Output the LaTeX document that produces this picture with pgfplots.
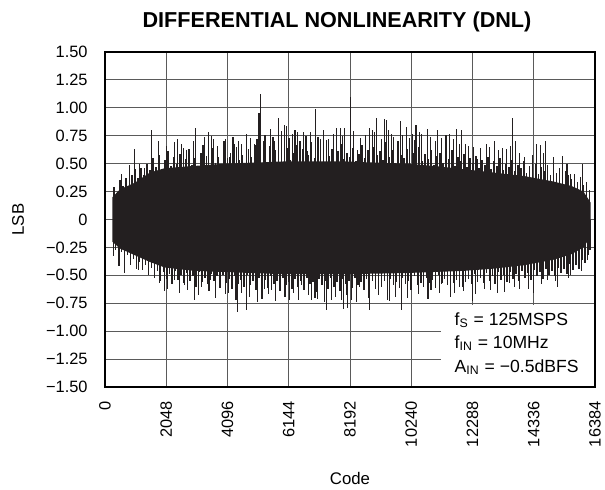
\documentclass[border=0pt]{standalone}
\usepackage{fontspec}
\setmainfont{Liberation Sans}
\usepackage{pgfplots}
\pgfplotsset{compat=1.18}
\definecolor{ink}{HTML}{231F20}
\definecolor{gridc}{HTML}{5A5A5A}
\begin{document}
\begin{tikzpicture}
\begin{axis}[
  scale only axis, width=245pt, height=167.5pt,
  xmin=0, xmax=16384, ymin=-1.5, ymax=1.5,
  scaled x ticks=false, scaled y ticks=false,
  xtick={0,2048,4096,6144,8192,10240,12288,14336,16384},
  xticklabels={0,2048,4096,6144,8192,10240,12288,14336,16384},
  ytick={-1.5,-1.25,-1,-0.75,-0.5,-0.25,0,0.25,0.5,0.75,1,1.25,1.5},
  yticklabels={−1.50,−1.25,−1.00,−0.75,−0.50,−0.25,0,0.25,0.50,0.75,1.00,1.25,1.50},
  x tick label style={rotate=90, anchor=east, inner sep=0pt, font=\fontsize{8.2}{10}\selectfont},
  y tick label style={anchor=east, inner sep=0pt, font=\fontsize{8.2}{10}\selectfont},
  xticklabel shift=7pt, yticklabel shift=8.5pt,
  grid=major, major grid style={gridc, line width=0.5pt},
  axis line style={line width=1pt, black},
  tick style={gridc, line width=0.5pt},
  major tick length=3pt,
  xlabel={Code}, ylabel={LSB},
  xlabel style={at={(axis description cs:0.5,-0.2716)}, anchor=center, font=\fontsize{8.4}{10}\selectfont},
  ylabel style={at={(axis description cs:-0.1776,0.5)}, anchor=center, font=\fontsize{8.4}{10}\selectfont},
]
% dense core (upper envelope left to right, lower envelope right to left)
\addplot[draw=none, fill=ink] coordinates {
(250,0.20) (500,0.27) (1000,0.33) (1500,0.42) (2000,0.46) (3000,0.48) (4000,0.50) (6000,0.52) (8000,0.52) (10000,0.50)
(11000,0.48) (12000,0.45) (13000,0.42) (14000,0.39) (15000,0.34) (15600,0.30) (16000,0.25) (16240,0.15)
(16240,-0.15) (16000,-0.25) (15600,-0.31) (15000,-0.36) (14000,-0.41) (13000,-0.44) (12000,-0.46) (11000,-0.47) (10000,-0.48)
(8000,-0.49) (6000,-0.49) (4000,-0.47) (3000,-0.46) (2000,-0.43) (1500,-0.38) (1000,-0.32) (500,-0.26) (250,-0.20)
} -- cycle;
% dense fringe, upper
\addplot[ycomb, draw=ink, line width=0.8pt, mark=none] coordinates {
(300,0.29) (400,0.24) (500,0.35) (600,0.30) (700,0.37) (800,0.29) (900,0.40) (1000,0.45) (1100,0.37) (1200,0.46)
(1300,0.40) (1400,0.50) (1500,0.44) (1600,0.55) (1700,0.47) (1800,0.58) (1900,0.45) (2000,0.53) (2100,0.61) (2200,0.48)
(2300,0.56) (2400,0.50) (2500,0.59) (2600,0.46) (2700,0.54) (2800,0.63) (2900,0.49) (3000,0.55) (3100,0.47) (3200,0.60)
(3300,0.52) (3400,0.57) (3500,0.48) (3600,0.64) (3700,0.51) (3800,0.56) (3900,0.47) (4000,0.62) (4100,0.55) (4200,0.60)
(4300,0.50) (4400,0.65) (4500,0.53) (4600,0.58) (4700,0.49) (4800,0.63) (4900,0.56) (5000,0.68) (5100,0.52) (5200,0.59)
(5300,0.61) (5400,0.50) (5500,0.66) (5600,0.55) (5700,0.62) (5800,0.52) (5900,0.70) (6000,0.57) (6100,0.64) (6200,0.53)
(6300,0.60) (6400,0.67) (6500,0.54) (6600,0.63) (6700,0.51) (6800,0.58) (6900,0.69) (7000,0.55) (7100,0.62) (7200,0.59)
(7300,0.52) (7400,0.66) (7500,0.57) (7600,0.63) (7700,0.50) (7800,0.61) (7900,0.68) (8000,0.54) (8100,0.60) (8200,0.56)
(8300,0.64) (8400,0.52) (8500,0.59) (8600,0.67) (8700,0.55) (8800,0.62) (8900,0.50) (9000,0.65) (9100,0.58) (9200,0.61)
(9300,0.53) (9400,0.69) (9500,0.56) (9600,0.62) (9700,0.51) (9800,0.64) (9900,0.58) (10000,0.55) (10100,0.63) (10200,0.50)
(10300,0.60) (10400,0.56) (10500,0.65) (10600,0.52) (10700,0.59) (10800,0.54) (10900,0.62) (11000,0.49) (11100,0.57) (11200,0.60)
(11300,0.51) (11400,0.58) (11500,0.54) (11600,0.62) (11700,0.48) (11800,0.56) (11900,0.52) (12000,0.59) (12100,0.47) (12200,0.55)
(12300,0.51) (12400,0.57) (12500,0.46) (12600,0.53) (12700,0.49) (12800,0.56) (12900,0.45) (13000,0.52) (13100,0.48) (13200,0.55)
(13300,0.44) (13400,0.50) (13500,0.47) (13600,0.53) (13700,0.43) (13800,0.49) (13900,0.46) (14000,0.52) (14100,0.42) (14200,0.48)
(14300,0.45) (14400,0.50) (14500,0.41) (14600,0.47) (14700,0.43) (14800,0.49) (14900,0.40) (15000,0.45) (15100,0.42) (15200,0.46)
(15300,0.38) (15400,0.43) (15500,0.40) (15600,0.36) (15700,0.41) (15800,0.34) (15900,0.38) (16000,0.31) (16100,0.34) (16200,0.26)
};
% dense fringe, lower
\addplot[ycomb, draw=ink, line width=0.8pt, mark=none] coordinates {
(350,-0.27) (450,-0.33) (550,-0.29) (650,-0.38) (750,-0.32) (850,-0.41) (950,-0.35) (1050,-0.44) (1150,-0.38) (1250,-0.45)
(1350,-0.41) (1450,-0.49) (1550,-0.43) (1650,-0.52) (1750,-0.46) (1850,-0.55) (1950,-0.47) (2050,-0.53) (2150,-0.49) (2250,-0.58)
(2350,-0.46) (2450,-0.54) (2550,-0.50) (2650,-0.57) (2750,-0.48) (2850,-0.55) (2950,-0.51) (3050,-0.60) (3150,-0.47) (3250,-0.56)
(3350,-0.52) (3450,-0.58) (3550,-0.49) (3650,-0.55) (3750,-0.51) (3850,-0.61) (3950,-0.50) (4050,-0.57) (4150,-0.53) (4250,-0.62)
(4350,-0.51) (4450,-0.58) (4550,-0.54) (4650,-0.60) (4750,-0.50) (4850,-0.59) (4950,-0.55) (5050,-0.63) (5150,-0.52) (5250,-0.57)
(5350,-0.54) (5450,-0.61) (5550,-0.51) (5650,-0.58) (5750,-0.55) (5850,-0.64) (5950,-0.52) (6050,-0.59) (6150,-0.56) (6250,-0.62)
(6350,-0.53) (6450,-0.60) (6550,-0.55) (6650,-0.63) (6750,-0.52) (6850,-0.58) (6950,-0.56) (7050,-0.65) (7150,-0.53) (7250,-0.59)
(7350,-0.55) (7450,-0.62) (7550,-0.52) (7650,-0.60) (7750,-0.56) (7850,-0.64) (7950,-0.53) (8050,-0.58) (8150,-0.55) (8250,-0.61)
(8350,-0.52) (8450,-0.59) (8550,-0.56) (8650,-0.63) (8750,-0.53) (8850,-0.60) (8950,-0.55) (9050,-0.62) (9150,-0.52) (9250,-0.58)
(9350,-0.55) (9450,-0.64) (9550,-0.53) (9650,-0.59) (9750,-0.56) (9850,-0.61) (9950,-0.52) (10050,-0.58) (10150,-0.55) (10250,-0.62)
(10350,-0.51) (10450,-0.59) (10550,-0.54) (10650,-0.60) (10750,-0.52) (10850,-0.57) (10950,-0.54) (11050,-0.61) (11150,-0.50) (11250,-0.58)
(11350,-0.53) (11450,-0.59) (11550,-0.51) (11650,-0.57) (11750,-0.54) (11850,-0.60) (11950,-0.50) (12050,-0.56) (12150,-0.53) (12250,-0.58)
(12350,-0.49) (12450,-0.56) (12550,-0.52) (12650,-0.57) (12750,-0.48) (12850,-0.55) (12950,-0.51) (13050,-0.58) (13150,-0.47) (13250,-0.54)
(13350,-0.50) (13450,-0.56) (13550,-0.47) (13650,-0.53) (13750,-0.49) (13850,-0.55) (13950,-0.46) (14050,-0.52) (14150,-0.48) (14250,-0.54)
(14350,-0.45) (14450,-0.51) (14550,-0.47) (14650,-0.53) (14750,-0.44) (14850,-0.50) (14950,-0.46) (15050,-0.51) (15150,-0.43) (15250,-0.48)
(15350,-0.44) (15450,-0.49) (15550,-0.40) (15650,-0.45) (15750,-0.41) (15850,-0.44) (15950,-0.36) (16050,-0.39) (16150,-0.32) (16220,-0.27)
};
% taller fringe spikes
\addplot[ycomb, draw=ink, line width=0.6pt, mark=none] coordinates {
(2050,0.66) (2420,0.72) (2630,0.64) (2960,0.70) (3280,0.67) (3560,0.75) (3760,0.66) (3980,0.70) (4280,0.74) (4560,0.68)
(4720,0.77) (5080,0.72) (5350,0.76) (5620,0.74) (5900,0.79) (6150,0.73) (6350,0.80) (6520,0.70) (6720,0.75) (6880,0.78)
(7120,0.74) (7300,0.80) (7480,0.72) (7650,0.77) (7950,0.75) (8320,0.79) (8530,0.73) (8720,0.76) (9020,0.78) (9250,0.72)
(9480,0.80) (9650,0.74) (9800,0.70) (9960,0.76) (10180,0.73) (10350,0.71) (10520,0.78) (10880,0.74) (11050,0.70) (11250,0.73)
(11650,0.72) (11850,0.68) (12150,0.66) (12550,0.64) (12750,0.68) (13150,0.62) (13550,0.66) (13850,0.60) (14300,0.58) (14650,0.60)
(15000,0.52) (15450,0.50)
(2100,-0.62) (2480,-0.66) (2760,-0.63) (3120,-0.68) (3480,-0.64) (3700,-0.70) (4020,-0.67) (4380,-0.72) (4820,-0.69) (5250,-0.71)
(5480,-0.67) (5700,-0.73) (6020,-0.69) (6300,-0.66) (6480,-0.72) (6800,-0.68) (7020,-0.70) (7350,-0.74) (7700,-0.69) (7900,-0.72)
(8080,-0.68) (8400,-0.74) (8800,-0.70) (9150,-0.68) (9520,-0.73) (9720,-0.69) (10120,-0.70) (10480,-0.67) (10800,-0.71) (11180,-0.66)
(11560,-0.69) (12000,-0.64) (12400,-0.67) (12900,-0.63) (13350,-0.65) (13700,-0.60) (14150,-0.62) (14600,-0.58) (15050,-0.55) (15500,-0.52)
};
% isolated spikes
\addplot[ycomb, draw=ink, line width=0.55pt, mark=none] coordinates {
(556,0.41) (834,0.49) (1000,0.63) (1168,0.50) (1334,0.46) (1557,0.80) (1779,0.70) (2113,0.55) (2335,0.69) (2558,0.68)
(2724,0.62) (3025,0.82) (3336,0.74) (3469,0.78) (3614,0.72) (4025,0.72) (4170,0.56) (4337,0.68) (4470,0.70) (4870,0.73)
(5037,0.67) (5149,0.95) (5193,1.12) (5304,0.70) (5538,0.81) (5671,0.70) (5805,0.91) (6005,0.85) (6060,0.84) (6283,0.77)
(6427,0.78) (6628,0.78) (6783,0.61) (7028,0.99) (7206,0.72) (7395,0.71) (7728,0.82) (7873,0.82) (8006,0.82) (8207,1.10)
(8454,0.62) (8843,0.82) (8954,0.80) (9088,0.91) (9343,0.90) (9399,0.89) (9566,0.77) (9877,0.88) (10066,0.83) (10289,0.77)
(10400,0.85) (10589,0.77) (10789,0.81) (11123,0.80) (11401,0.76) (11512,0.77) (11745,0.81) (11923,0.80) (12068,0.68) (12324,0.65)
(12457,0.54) (12846,0.65) (13013,0.70) (13291,0.64) (13436,0.63) (13625,0.91) (13736,0.70) (14014,0.56) (14436,0.68) (14570,0.67)
(14737,0.70) (14992,0.56) (15293,0.57) (15571,0.41) (15971,0.50)
(278,-0.33) (467,-0.42) (667,-0.48) (1112,-0.45) (1446,-0.50) (1835,-0.57) (2002,-0.64) (2335,-0.54) (2669,-0.59) (2980,-0.72)
(3225,-0.60) (3536,-0.54) (4137,-0.66) (4426,-0.83) (4559,-0.66) (4726,-0.81) (5093,-0.74) (5338,-0.62) (5560,-0.63) (6172,-0.72)
(6561,-0.59) (6894,-0.72) (7117,-0.71) (7395,-0.81) (7562,-0.72) (7984,-0.80) (8118,-0.79) (8231,-0.72) (8509,-0.60) (8843,-0.81)
(9232,-0.60) (9454,-0.72) (9899,-0.81) (10233,-0.63) (10567,-0.57) (10900,-0.63) (11289,-0.57) (11678,-0.66) (11957,-0.60) (12290,-0.73)
(12679,-0.62) (13124,-0.66) (13513,-0.57) (13847,-0.62) (14325,-0.66) (14792,-0.54) (15126,-0.60) (15571,-0.50) (15926,-0.46) (16126,-0.36)
};
% annotation box
\fill[white] (axis cs:11246,-1.49) rectangle (axis cs:16380,-0.77);
\node[anchor=west, inner sep=0pt, font=\fontsize{8.8}{10}\selectfont] at (axis cs:11680,-0.90) {f\textsubscript{S} = 125MSPS};
\node[anchor=west, inner sep=0pt, font=\fontsize{8.8}{10}\selectfont] at (axis cs:11680,-1.11) {f\textsubscript{IN} = 10MHz};
\node[anchor=west, inner sep=0pt, font=\fontsize{8.8}{10}\selectfont] at (axis cs:11680,-1.32) {A\textsubscript{IN} = −0.5dBFS};
\draw[line width=1pt, black] (rel axis cs:0,0) rectangle (rel axis cs:1,1);
\end{axis}
\node[font=\fontsize{10.8}{13}\selectfont\bfseries] at (116pt,182.6pt) {DIFFERENTIAL NONLINEARITY (DNL)};
\pgfresetboundingbox
\path (-52.5pt,-51pt) rectangle (250pt,193.5pt);
\end{tikzpicture}
\end{document}
